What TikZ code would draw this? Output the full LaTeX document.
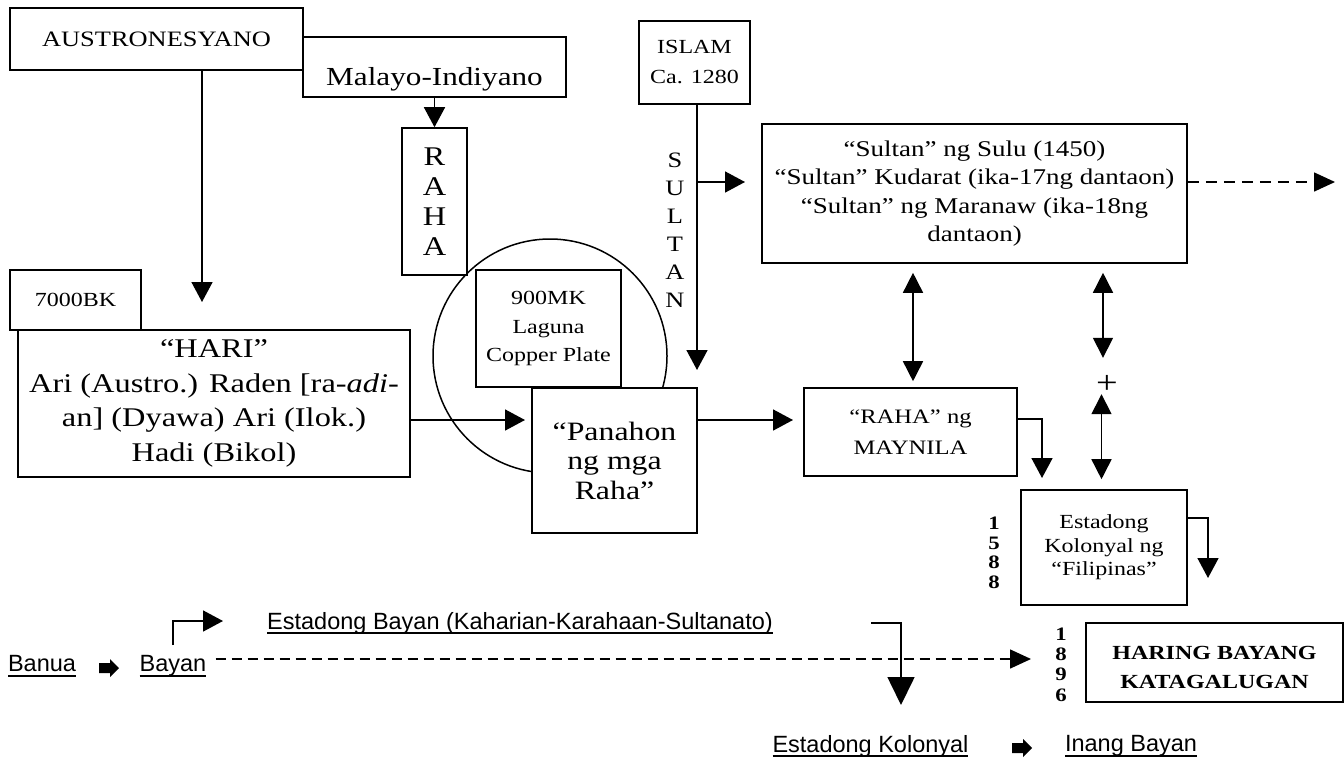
\documentclass[tikz,border=0pt]{standalone}
\usepackage{fontspec}
\setmainfont{Liberation Serif}[FakeStretch=1.2]
\newfontfamily\sansx{Liberation Sans}
\usetikzlibrary{arrows.meta}
\newcommand\fs[2]{\fontsize{#1}{#2}\selectfont}
\newcommand\ulx[1]{\setbox0\hbox{#1}\rlap{\rule[-5pt]{\wd0}{1.7pt}}\box0}
\begin{document}
\begin{tikzpicture}[x=1pt,y=-1pt,
  box/.style={draw,line width=1.6pt,fill=white,inner sep=0pt,align=center},
  lbl/.style={align=center,inner sep=0pt},
  sanslbl/.style={font=\sansx\fs{23.5}{26},inner sep=2pt},
  blk/.pic={\fill[black] (-10,-5) -- (1,-5) -- (1,-9) -- (10,0) -- (1,9) -- (1,5) -- (-10,5) -- cycle;},
  arr/.style={line width=1.6pt,-{Triangle[length=20pt,width=21pt]}},
  bigarr/.style={line width=1.6pt,-{Triangle[length=28pt,width=27pt]}},
  darr/.style={line width=1.6pt,{Triangle[length=20pt,width=20pt]}-{Triangle[length=20pt,width=20pt]}},
  dasharr/.style={line width=1.6pt,dash pattern=on 11pt off 7pt,-{Triangle[length=21pt,width=19pt]}}]
\fill[white] (0,0) rectangle (1344,761);
\useasboundingbox (0,0) rectangle (1344,761);

% circle behind the boxes
\node[circle,draw,line width=1.5pt,minimum size=234pt,inner sep=0pt] (circ) at (550,356) {};

% boxes
\node[box,minimum width=263pt,minimum height=60pt,font=\fs{26}{30},text height=36pt,text depth=0pt] (malayo) at (434.5,67) {Malayo-Indiyano};
\node[box,minimum width=293pt,minimum height=62pt,font=\fs{22}{26}] (austro) at (156.5,39) {AUSTRONESYANO};
\node[box,minimum width=65pt,minimum height=147pt,font=\fs{27}{30}] (raha) at (434.5,201.5) {R\\A\\H\\A};
\node[box,minimum width=111pt,minimum height=83pt,font=\fs{20}{30}] (islam) at (694.5,62.5) {ISLAM\\Ca. 1280};
\node[lbl,font=\fs{22}{28}] (sultan) at (675,230) {S\\U\\L\\T\\A\\N};
\node[box,minimum width=425pt,minimum height=139pt,font=\fs{22.5}{28.5}] (sulbox) at (974.5,193.5) {“Sultan” ng Sulu (1450)\\“Sultan” Kudarat (ika-17ng dantaon)\\“Sultan” ng Maranaw (ika-18ng\\dantaon)};
\node[box,minimum width=131pt,minimum height=60pt,font=\fs{20}{24}] (bk) at (75.5,300) {7000BK};
\node[box,minimum width=392pt,minimum height=147pt,font=\fs{27}{34.5}] (hari) at (214,403.5) {“HARI”\\Ari (Austro.) Raden [ra-\textit{adi}-\\an] (Dyawa) Ari (Ilok.)\\Hadi (Bikol)};
\node[box,minimum width=145pt,minimum height=117pt,font=\fs{20}{28.5}] (mk) at (548.5,328.5) {\rule{0pt}{10pt}900MK\\Laguna\\Copper Plate};
\node[box,minimum width=165pt,minimum height=145pt,font=\fs{26.5}{29.5}] (pan) at (614.5,460.5) {“Panahon\\ng mga\\Raha”};
\node[box,minimum width=213pt,minimum height=88pt,font=\fs{20.5}{31}] (rm) at (910.5,432) {“RAHA” ng\\MAYNILA};
\node[box,minimum width=166pt,minimum height=115pt,font=\fs{20}{23.5}] (est) at (1104,547.5) {Estadong\\Kolonyal ng\\“Filipinas”};
\node[lbl,font=\fs{19}{19.5}\bfseries] (yA) at (994,553) {1\\5\\8\\8};
\node[box,minimum width=257pt,minimum height=79pt,font=\fs{20}{29}\bfseries] (haring) at (1214.5,662.5) {\rule{0pt}{24pt}HARING BAYANG\\KATAGALUGAN};
\node[lbl,font=\fs{19}{20.3}\bfseries] (yB) at (1061,664.5) {1\\8\\9\\6};
\node[lbl,font=\fs{32}{32}] (plus) at (1107,384) {+};

% bottom sans labels
\node[sanslbl] (banua) at (42,666) {\ulx{Banua}};
\coordinate (ba1) at (109,668);
\pic at (ba1) {blk};
\node[sanslbl] (bayan) at (173,666) {\ulx{Bayan}};
\node[sanslbl] (estb) at (520,623) {\ulx{Estadong Bayan (Kaharian-Karahaan-Sultanato)}};
\node[sanslbl] (estk) at (870.5,746) {\ulx{Estadong Kolonyal}};
\coordinate (ba2) at (1022,748);
\pic at (ba2) {blk};
\node[sanslbl] (inang) at (1131,746) {\ulx{Inang Bayan}};

% coordinates for free ends
\coordinate (austip) at (202,302);
\coordinate (sultip) at (697,370);
\coordinate (brs) at (697,182);
\coordinate (brt) at (745,182);
\coordinate (hp) at (525,420);
\coordinate (pr) at (793,420);
\coordinate (sd) at (1335,182);
\coordinate (d1) at (913,0);
\coordinate (d2) at (1103,0);
\coordinate (d3) at (1101.5,0);
\coordinate (e1) at (1042,478);
\coordinate (e2) at (1208,578);
\coordinate (eb1) at (223,621);
\coordinate (dz) at (1031,659);
\coordinate (ek) at (901,705);

% connectors
\draw[arr] (malayo.south) -- (raha.north);
\draw[arr] (austro.south -| austip) -- (austip);
\draw[arr] (islam.south -| sultip) -- (sultip);
\draw[arr] (brs) -- (brt);
\draw[arr] (hari.east |- hp) -- (hp);
\draw[arr] (pan.east |- pr) -- (pr);
\draw[dasharr] (sulbox.east |- sd) -- (sd);
\draw[darr,shorten <=9pt,shorten >=6pt] (sulbox.south -| d1) -- (rm.north -| d1);
\draw[darr] ([yshift=-9pt]sulbox.south -| d2) -- ([yshift=-94pt]sulbox.south -| d2);
\draw[darr] ([yshift=95pt]est.north -| d3) -- ([yshift=10pt]est.north -| d3);
\draw[arr] ([yshift=13pt]rm.east) -| (e1);
\draw[arr] ([yshift=29.5pt]est.east) -| (e2);
\draw[arr] ([yshift=8pt]bayan.north) |- (eb1);
\draw[dasharr,dash pattern=on 10pt off 6pt,shorten <=7pt] ([yshift=7pt]bayan.east) -- (dz);
\draw[bigarr] ([xshift=96pt]estb.east) -| (ek);
\end{tikzpicture}
\end{document}
